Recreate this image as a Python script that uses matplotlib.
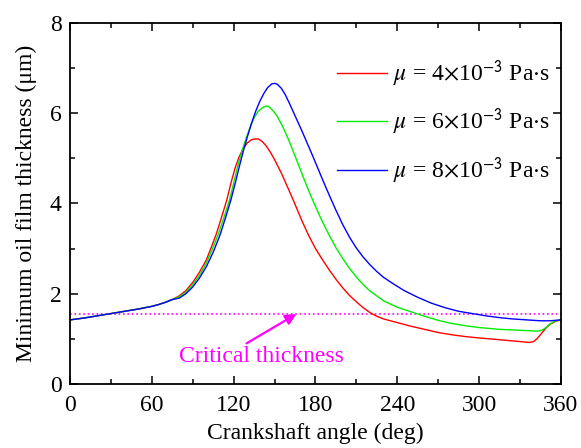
import numpy as np
import matplotlib.pyplot as plt
from matplotlib.ticker import MultipleLocator

plt.rcParams['font.family'] = ['Liberation Serif', 'DejaVu Serif']
plt.rcParams['mathtext.fontset'] = 'stix'

# values
ang_common = [0, 10, 20, 30, 40, 50, 60, 65, 70, 75]
h_common = [1.42, 1.46, 1.51, 1.56, 1.61, 1.66, 1.72, 1.76, 1.81, 1.87]

ang_red = ang_common + [80, 85, 90, 95, 100, 103.5, 107, 111, 115, 118, 121, 124, 127, 130, 133,
                        136, 138, 141, 144, 147, 150, 155, 160, 165, 170, 175, 180, 185, 190,
                        195, 200, 205, 210, 215, 220, 225, 230, 240, 250, 260, 270, 280, 290,
                        300, 315, 330, 337, 340, 343, 346, 349, 352, 356, 360]
h_red = h_common + [1.95, 2.07, 2.25, 2.48, 2.75, 3.02, 3.3, 3.68, 4.08, 4.45, 4.78, 5.03, 5.22,
                    5.34, 5.41, 5.43, 5.43, 5.37, 5.27, 5.13, 4.97, 4.67, 4.33, 3.98, 3.62, 3.29,
                    3.0, 2.76, 2.53, 2.32, 2.13, 1.96, 1.82, 1.69, 1.58, 1.5, 1.44, 1.36, 1.28,
                    1.21, 1.14, 1.09, 1.05, 1.02, 0.98, 0.94, 0.92, 0.94, 1.02, 1.13, 1.24,
                    1.32, 1.39, 1.42]

ang_green = ang_common + [80, 85, 90, 95, 100, 104.5, 108.5, 113, 117, 120, 123, 126, 129, 132,
                          135, 138, 141, 144, 146, 149, 152, 156, 160, 164, 168, 172, 176, 180,
                          185, 190, 195, 200, 205, 210, 215, 220, 230, 240, 250, 260, 270, 280,
                          290, 300, 315, 330, 343, 346, 349, 352, 356, 360]
h_green = h_common + [1.93, 2.03, 2.2, 2.41, 2.68, 3.0, 3.3, 3.7, 4.08, 4.45, 4.83, 5.15, 5.43,
                      5.68, 5.9, 6.04, 6.12, 6.16, 6.14, 6.05, 5.93, 5.7, 5.43, 5.13, 4.82, 4.51,
                      4.21, 3.93, 3.6, 3.3, 3.02, 2.78, 2.56, 2.37, 2.2, 2.06, 1.84, 1.7, 1.6,
                      1.5, 1.41, 1.34, 1.29, 1.25, 1.21, 1.19, 1.17, 1.19, 1.25, 1.33, 1.4, 1.42]

ang_blue = ang_common + [80, 85, 90, 95, 100, 105, 110, 114, 118, 121, 124, 127, 130, 133, 136,
                         139, 142, 145, 148, 150, 152, 155, 158, 161, 164, 167, 170, 174, 178,
                         182, 186, 190, 195, 200, 205, 210, 215, 220, 225, 230, 237, 245, 255,
                         265, 275, 285, 293, 305, 315, 325, 335, 345, 352, 360]
h_blue = h_common + [1.9, 2.0, 2.15, 2.35, 2.6, 2.92, 3.3, 3.68, 4.08, 4.43, 4.8, 5.15, 5.47,
                     5.77, 6.03, 6.25, 6.43, 6.57, 6.65, 6.66, 6.64, 6.55, 6.4, 6.21, 6.01, 5.81,
                     5.61, 5.33, 5.05, 4.76, 4.47, 4.19, 3.85, 3.53, 3.25, 3.01, 2.81, 2.64,
                     2.49, 2.36, 2.22, 2.07, 1.92, 1.79, 1.69, 1.61, 1.57, 1.51, 1.47, 1.44,
                     1.42, 1.4, 1.4, 1.42]

h_crit = 1.55

fig = plt.figure(figsize=(5.81, 4.48), dpi=100)
ax = fig.add_axes([0.1205, 0.1429, 0.845, 0.806])

ax.plot([0, 360], [h_crit, h_crit], color='magenta', ls=':', lw=1.2)
ax.plot(ang_red, h_red, color='red', lw=1, label=r'$\mu$ = 4$\times$10$^{\mathsf{-3}}$ Pa$\cdot$s')
ax.plot(ang_green, h_green, color='#00ee00', lw=1, label=r'$\mu$ = 6$\times$10$^{\mathsf{-3}}$ Pa$\cdot$s')
ax.plot(ang_blue, h_blue, color='blue', lw=1, label=r'$\mu$ = 8$\times$10$^{\mathsf{-3}}$ Pa$\cdot$s')

ax.annotate('', xy=(166, h_crit), xytext=(129.5, 0.9),
            arrowprops=dict(arrowstyle='-|>', color='magenta', lw=1.6,
                            shrinkA=0, shrinkB=0, mutation_scale=16))
ax.text(140.4, 0.6, 'Critical thickness', color='magenta', fontsize=17,
        ha='center', va='center')

ax.set_xlim(0, 360)
ax.set_ylim(0, 8)
ax.xaxis.set_major_locator(MultipleLocator(60))
ax.xaxis.set_minor_locator(MultipleLocator(30))
ax.yaxis.set_major_locator(MultipleLocator(2))
ax.yaxis.set_minor_locator(MultipleLocator(1))
for s in ax.spines.values():
    s.set_linewidth(1.3)
ax.tick_params(which='both', direction='in', top=True, right=True, labelsize=17, width=1.1)
ax.tick_params(which='major', length=6)
ax.tick_params(which='minor', length=3.5)
ax.tick_params(axis='x', pad=8)
ax.tick_params(axis='y', pad=6)
ax.set_xlabel('Crankshaft angle (deg)', fontsize=17, labelpad=5)
ax.set_ylabel('Minimum oil film thickness (\u03bcm)', fontsize=17, labelpad=9)

ax.legend(loc='upper right', bbox_to_anchor=(1.02, 0.96), frameon=False, fontsize=17,
          handlelength=2.1, labelspacing=0.75, handletextpad=0.25)

fig.savefig('out.png', dpi=100)
